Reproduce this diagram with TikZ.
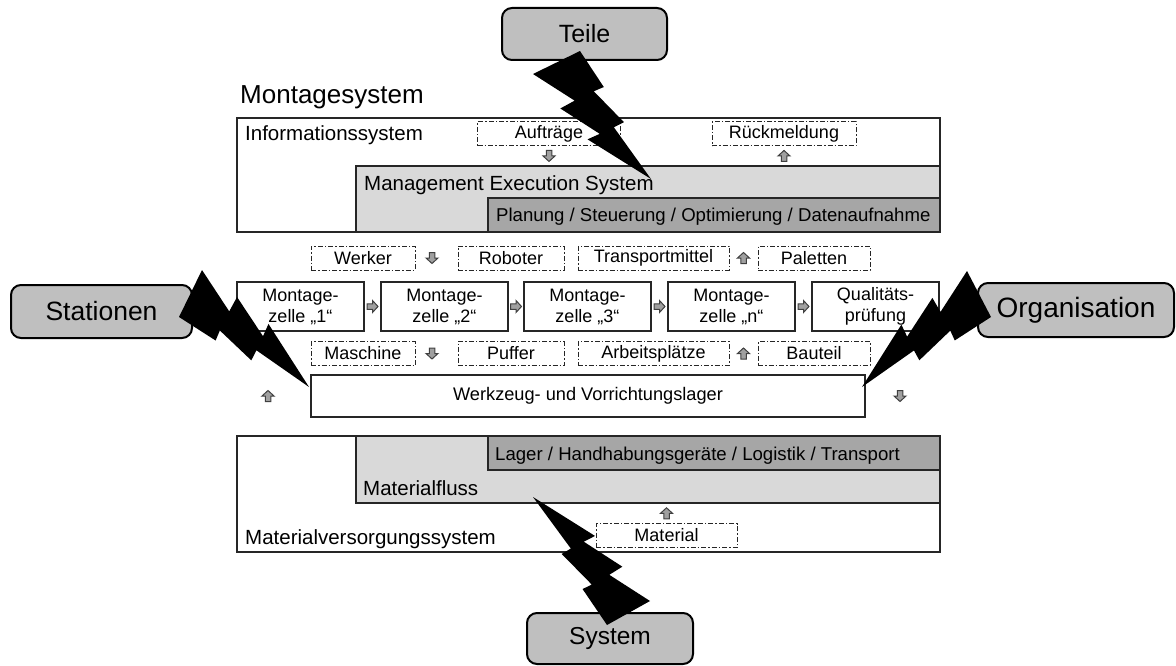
\documentclass[tikz,border=0pt]{standalone}
\usepackage{fontspec}
\setmainfont{Liberation Sans}
\usetikzlibrary{calc,fit}

\definecolor{bubblefill}{HTML}{BFBFBF}
\definecolor{mesfill}{HTML}{D9D9D9}
\definecolor{corefill}{HTML}{A6A6A6}
\definecolor{arrowfill}{HTML}{A0A0A0}

\newcommand\fsz[2]{\fontsize{#1}{#2}\selectfont}

% Lightning bolt given by three points:
% #1 and #2 are the two corners of the broad end, #3 is the tip.
\newcommand\drawbolt[3]{%
  \fill[black] (#2)
    -- ($0.77093*(#2)+0.29300*(#3)-0.06393*(#1)$)
    -- ($0.14334*(#1)+0.56779*(#2)+0.28887*(#3)$)
    -- ($0.50520*(#2)+0.56929*(#3)-0.07449*(#1)$)
    -- ($0.14133*(#1)+0.28797*(#2)+0.57070*(#3)$)
    -- (#3)
    -- ($0.69443*(#1)+0.56546*(#3)-0.25989*(#2)$)
    -- ($0.43845*(#1)+0.56859*(#3)-0.00704*(#2)$)
    -- ($0.86272*(#1)+0.29393*(#3)-0.15665*(#2)$)
    -- ($0.55043*(#1)+0.16064*(#2)+0.28893*(#3)$)
    -- (#1) -- cycle;}

\begin{document}
\begin{tikzpicture}[x=1pt,y=-1pt,
  box/.style={draw=black!85, line width=1.2pt, fill=white, inner sep=0pt},
  layer/.style={draw=black!85, line width=1.2pt, inner sep=0pt},
  res/.style={draw=black!85, line width=1pt,
    dash pattern=on 5pt off 2pt on 1.5pt off 2pt,
    inner sep=0pt, minimum height=24pt, font=\fsz{18}{21}},
  cell/.style={draw=black!85, line width=1.2pt, fill=white, inner sep=0pt,
    minimum width=127pt, minimum height=49pt, align=center, font=\fsz{18}{21}},
  bubble/.style={draw=black, line width=2pt, fill=bubblefill,
    rounded corners=10pt, inner sep=0pt},
  grouplabel/.style={anchor=base west, inner sep=0pt, font=\fsz{20.5}{24}},
  sublabel/.style={anchor=base west, inner sep=0pt, font=\fsz{18.6}{22}},
  blockarrow/.pic={\filldraw[fill=arrowfill, draw=black!75, line width=1pt]
    (-2.75,-5.5) -- (2.75,-5.5) -- (2.75,0) -- (6,0) -- (0,5.5) -- (-6,0) -- (-2.75,0) -- cycle;}
]
\useasboundingbox (0,0) rectangle (1176,666);

% ---------- title ----------
\node[anchor=base west, inner sep=0pt, font=\fsz{26}{30}] (title) at (240,104) {Montagesystem};

% ---------- information system ----------
\node[box, fit={(237,118) (940,232)}] (info) {};
\node[layer, fill=mesfill, fit={(356,166) (940,232)}] (mes) {};
\node[layer, fill=corefill, fit={(488,198) (940,232)}] (plan) {};
\node[grouplabel] (infolbl) at (245,141) {Informationssystem};
\node[grouplabel] (meslbl) at (364,190) {Management Execution System};
\node[sublabel] (planlbl) at (496,222) {Planung / Steuerung / Optimierung / Datenaufnahme};
\node[res, minimum width=143pt] (auftr) at (549,134) {Aufträge};
\node[res, minimum width=144pt] (rueck) at (784,134) {Rückmeldung};
\pic at ($(auftr.south)!0.5!(auftr.south |- mes.north)$) {blockarrow};
\pic[rotate=180] at ($(rueck.south)!0.5!(rueck.south |- mes.north)$) {blockarrow};

% ---------- resources above the cells ----------
\node[res, minimum width=104pt] (werker) at (363,258) {Werker};
\node[res, minimum width=106pt] (robot) at (511,258) {Roboter};
\node[res, minimum width=151pt] (transp) at (653.5,258) {Transportmittel};
\node[res, minimum width=112pt] (palet) at (814,258) {Paletten};
\pic at (432,258) {blockarrow};
\pic[rotate=180] at ($(transp.east)!0.5!(palet.west)$) {blockarrow};

% ---------- assembly cells ----------
\node[cell] (c1) at (300.5,306.5) {Montage-\\zelle „1“};
\node[cell] (c2) at (444.5,306.5) {Montage-\\zelle „2“};
\node[cell] (c3) at (587.5,306.5) {Montage-\\zelle „3“};
\node[cell] (c4) at (731.5,306.5) {Montage-\\zelle „n“};
\node[cell] (qp) at (875.5,306.5) {Qualitäts-\\prüfung};
\pic[rotate=90] at ($(c1.east)!0.5!(c2.west)$) {blockarrow};
\pic[rotate=90] at ($(c2.east)!0.5!(c3.west)$) {blockarrow};
\pic[rotate=90] at ($(c3.east)!0.5!(c4.west)$) {blockarrow};
\pic[rotate=90] at ($(c4.east)!0.5!(qp.west)$) {blockarrow};

% ---------- resources below the cells ----------
\node[res, minimum width=104pt] (masch) at (363,353.5) {Maschine};
\node[res, minimum width=106pt] (puffer) at (511,353.5) {Puffer};
\node[res, minimum width=151pt] (arbpl) at (653.5,353.5) {Arbeitsplätze};
\node[res, minimum width=112pt] (bauteil) at (814,353.5) {Bauteil};
\pic at (432,353.5) {blockarrow};
\pic[rotate=180] at ($(arbpl.east)!0.5!(bauteil.west)$) {blockarrow};

% ---------- tool and fixture store ----------
\node[box, minimum width=554pt, minimum height=42pt, font=\fsz{18.2}{22}] (lager) at (588,396) {Werkzeug- und Vorrichtungslager};
\pic[rotate=180] at (268,396) {blockarrow};
\pic at (900,396) {blockarrow};

% ---------- material supply system ----------
\node[box, fit={(237,436) (940,552)}] (mat) {};
\node[layer, fill=mesfill, fit={(356,436) (940,503)}] (mfluss) {};
\node[layer, fill=corefill, fit={(488,436) (940,470)}] (handl) {};
\node[sublabel] (handllbl) at (495,460) {Lager / Handhabungsgeräte / Logistik / Transport};
\node[grouplabel] (mflusslbl) at (363,495) {Materialfluss};
\node[grouplabel] (matlbl) at (245,544) {Materialversorgungssystem};
\node[res, minimum width=141pt] (material) at (666.5,535.5) {Material};
\pic[rotate=180] at ($(material.north)!0.5!(material.north |- mfluss.south)$) {blockarrow};

% ---------- disturbance sources ----------
\node[bubble, minimum width=165pt, minimum height=52pt, font=\fsz{25}{30}] (teile) at (584.5,34) {Teile};
\node[bubble, minimum width=181pt, minimum height=53pt, font=\fsz{26.5}{30}] (stat) at (101.5,311.5) {Stationen};
\node[bubble, minimum width=196pt, minimum height=54pt, font=\fsz{28}{32}] (orga) at (1076,310) {Organisation};
\node[bubble, minimum width=166pt, minimum height=51pt, font=\fsz{24.5}{30}] (sys) at (610,638.5) {System};

% ---------- lightning bolts ----------
\coordinate (teileA) at (533,74);  \coordinate (teileB) at (580,51);  \coordinate (teileTip) at (651,179);
\coordinate (statA) at (202,270);  \coordinate (statB) at (179,317);  \coordinate (statTip) at (309,387);
\coordinate (orgaA) at (967,271);  \coordinate (orgaB) at (991,317);  \coordinate (orgaTip) at (862,387);
\coordinate (sysA) at (650,601);   \coordinate (sysB) at (607,625);   \coordinate (sysTip) at (533,497);
\drawbolt{teileA}{teileB}{teileTip}
\drawbolt{statA}{statB}{statTip}
\drawbolt{orgaA}{orgaB}{orgaTip}
\drawbolt{sysA}{sysB}{sysTip}
\end{tikzpicture}
\end{document}
